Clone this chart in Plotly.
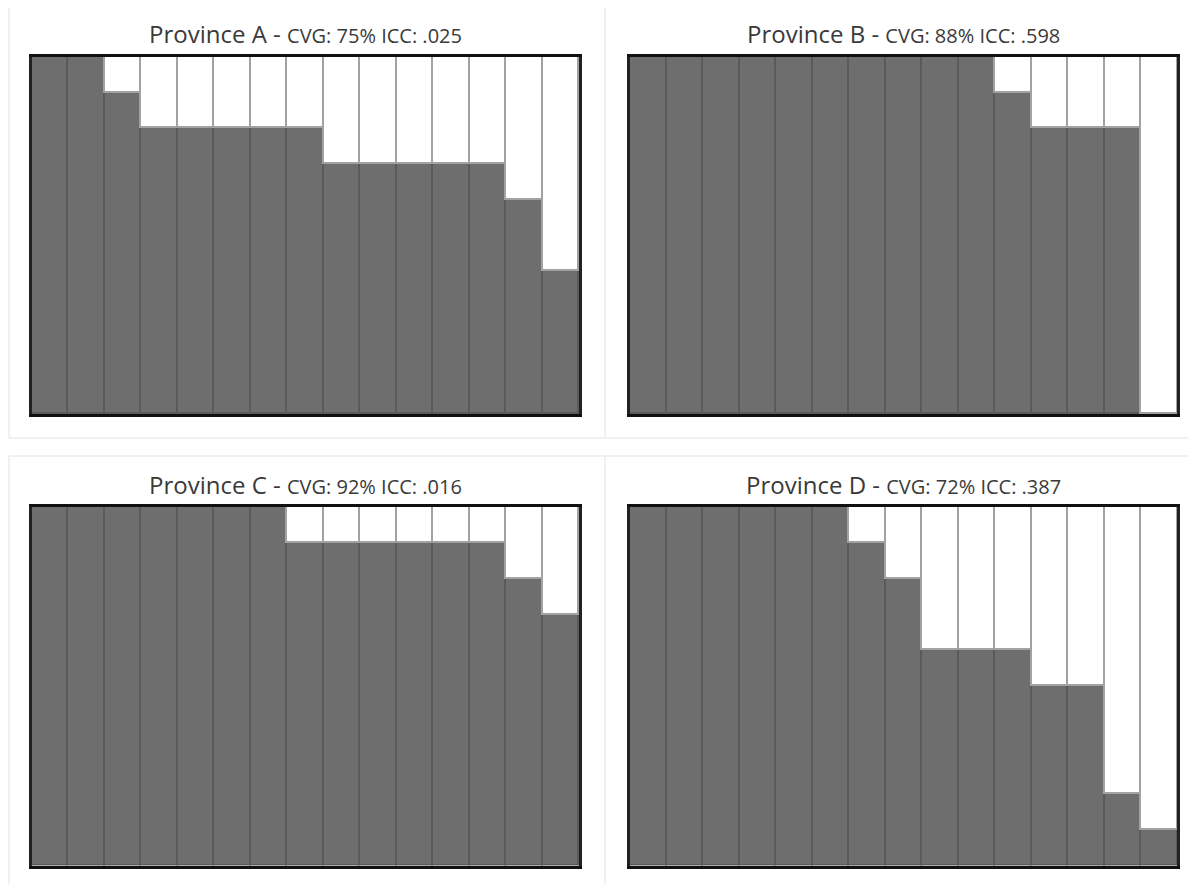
import plotly.graph_objects as go

W, H = 1196, 884
OFF = 8  # default body margin of the page

columns = list(range(1, 16))
provinces = ["Province A", "Province B", "Province C", "Province D"]
subtitles = ["CVG: 75% ICC: .025", "CVG: 88% ICC: .598", "CVG: 92% ICC: .016", "CVG: 72% ICC: .387"]
cov_a = [100, 100, 90, 80, 80, 80, 80, 80, 70, 70, 70, 70, 70, 60, 40]
cov_b = [100, 100, 100, 100, 100, 100, 100, 100, 100, 100, 90, 80, 80, 80, 0]
cov_c = [100, 100, 100, 100, 100, 100, 100, 90, 90, 90, 90, 90, 90, 80, 70]
cov_d = [100, 100, 100, 100, 100, 100, 90, 80, 60, 60, 60, 50, 50, 20, 10]
coverage = [cov_a, cov_b, cov_c, cov_d]

# screen-pixel boxes of plot areas (x0, x1, ytop, ybot)
boxes = [(32, 579, 57, 414), (629.5, 1177, 57, 414), (32, 579, 507, 865.5), (629.5, 1177, 507, 865.5)]
title_y = [33, 33, 484, 484]


def px(x):
    return (x - OFF) / W


def py(y):
    return 1 - (y - OFF) / H


fig = go.Figure()
layout = dict(width=W, height=H, margin=dict(l=0, r=0, t=0, b=0),
              paper_bgcolor="white", plot_bgcolor="white", showlegend=False,
              barmode="stack", bargap=0)
annotations = []
shapes = []
for i, (cov, box) in enumerate(zip(coverage, boxes)):
    n = "" if i == 0 else str(i + 1)
    xa, ya = "x" + n, "y" + n
    x0, x1, yt, yb = box
    fig.add_trace(go.Bar(x=columns, y=cov, xaxis=xa, yaxis=ya,
                         marker=dict(color="#6e6e6e", line=dict(color="#5a5a5a", width=1.8)),
                         hoverinfo="skip"))
    fig.add_trace(go.Bar(x=columns, y=[100 - v for v in cov], xaxis=xa, yaxis=ya,
                         marker=dict(color="white", line=dict(color="#a2a2a2", width=1.6)),
                         hoverinfo="skip"))
    layout["xaxis" + n] = dict(domain=[px(x0), px(x1)], range=[0.5, 15.5], showgrid=False,
                               zeroline=False, showticklabels=False, ticks="",
                               showline=True, mirror=True, linecolor="#111", linewidth=3,
                               anchor=ya, fixedrange=True)
    layout["yaxis" + n] = dict(domain=[py(yb), py(yt)], range=[0, 100], showgrid=False,
                               zeroline=False, showticklabels=False, ticks="",
                               showline=True, mirror=True, linecolor="#222", linewidth=2.5,
                               anchor=xa, fixedrange=True)
    annotations.append(dict(
        xref="paper", yref="paper", x=px((x0 + x1) / 2), y=py(title_y[i]),
        xanchor="center", yanchor="middle", showarrow=False,
        text=f"{provinces[i]} - <span style='font-size:20px'>{subtitles[i]}</span>",
        font=dict(family="Open Sans, Noto Sans, sans-serif", size=24, color="#3a3a3a")))

# card borders (lines only; right-hand cards run off the page edge)
card_col = "#ececec"
card_lines = [(9, 5, 1230, 5), (9, 438, 1230, 438), (9, 456, 1230, 456),
              (9, 5, 9, 438), (9, 456, 9, 900), (605, 5, 605, 438), (605, 456, 605, 900)]
for (lx0, ly0, lx1, ly1) in card_lines:
    shapes.append(dict(type="line", xref="paper", yref="paper",
                       x0=px(lx0), x1=px(lx1), y0=py(ly0), y1=py(ly1),
                       line=dict(color=card_col, width=1.5), layer="below"))

layout["annotations"] = annotations
layout["shapes"] = shapes
fig.update_layout(**layout)
fig.write_html("out.html")
